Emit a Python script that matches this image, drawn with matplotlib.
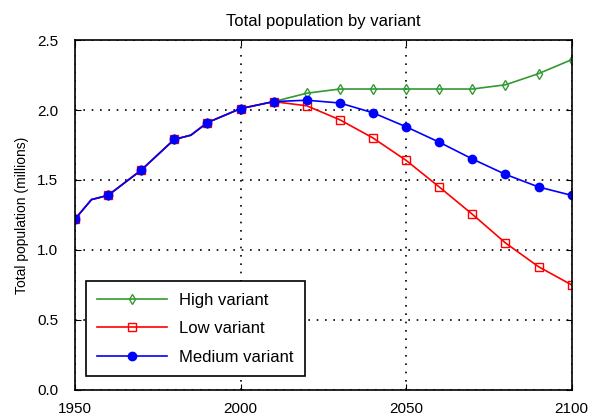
import matplotlib
matplotlib.use("Agg")
import matplotlib.pyplot as plt
import numpy as np

plt.rcParams['font.family'] = ['Liberation Sans', 'DejaVu Sans']

# years (a couple of in-between points where the line visibly bends)
years = [1950, 1955, 1960, 1970, 1980, 1985, 1990, 2000, 2010, 2020, 2030,
         2040, 2050, 2060, 2070, 2080, 2090, 2100]
hist = [1.22, 1.36, 1.39, 1.57, 1.79, 1.82, 1.91, 2.01, 2.06]
high = hist + [2.12, 2.15, 2.15, 2.15, 2.15, 2.15, 2.18, 2.26, 2.36]
low = hist + [2.03, 1.93, 1.80, 1.64, 1.45, 1.255, 1.05, 0.88, 0.75]
medium = hist + [2.07, 2.05, 1.98, 1.88, 1.77, 1.65, 1.54, 1.45, 1.39]

decades = [i for i, y in enumerate(years) if y % 10 == 0]

fig = plt.figure(figsize=(5.9, 4.17), dpi=100)
ax = fig.add_axes([0.127, 0.065, 0.842, 0.839])

ax.plot(years, high, color=(0.2, 0.6, 0.2), lw=1.2, marker='d', ms=5,
        mfc='none', mec=(0.2, 0.6, 0.2), markevery=decades, label='High variant')
ax.plot(years, low, color='red', lw=1.2, marker='s', ms=6,
        mfc='none', mec='red', markevery=decades, label='Low variant')
ax.plot(years, medium, color='blue', lw=1.2, marker='o', ms=6,
        mfc='blue', mec='blue', markevery=decades, label='Medium variant')

ax.set_xlim(1950, 2100)
ax.set_ylim(0, 2.5)
ax.set_xticks([1950, 2000, 2050, 2100])
ax.set_yticks(np.arange(0, 2.51, 0.5))
ax.set_yticklabels([f"{v:.1f}" for v in np.arange(0, 2.51, 0.5)])
ax.tick_params(direction='in', top=True, right=True, labelsize=11, length=4)
ax.tick_params(axis='x', pad=9)
ax.tick_params(axis='y', pad=12)
ax.grid(True, linestyle=(0, (1, 4)), color='black', lw=1.2)
for s in ax.spines.values():
    s.set_linewidth(1.2)

ax.set_title("Total population by variant", fontsize=12, pad=10)
ax.set_ylabel("Total population (millions)", fontsize=10, labelpad=6)

leg = ax.legend(loc='lower left', fontsize=12, fancybox=False, framealpha=1,
                edgecolor='black', handlelength=4.2, borderpad=0.7,
                labelspacing=0.8, handletextpad=0.7,
                bbox_to_anchor=(0.005, 0.015))
leg.get_frame().set_linewidth(1.2)

plt.savefig("out.png", dpi=100)
